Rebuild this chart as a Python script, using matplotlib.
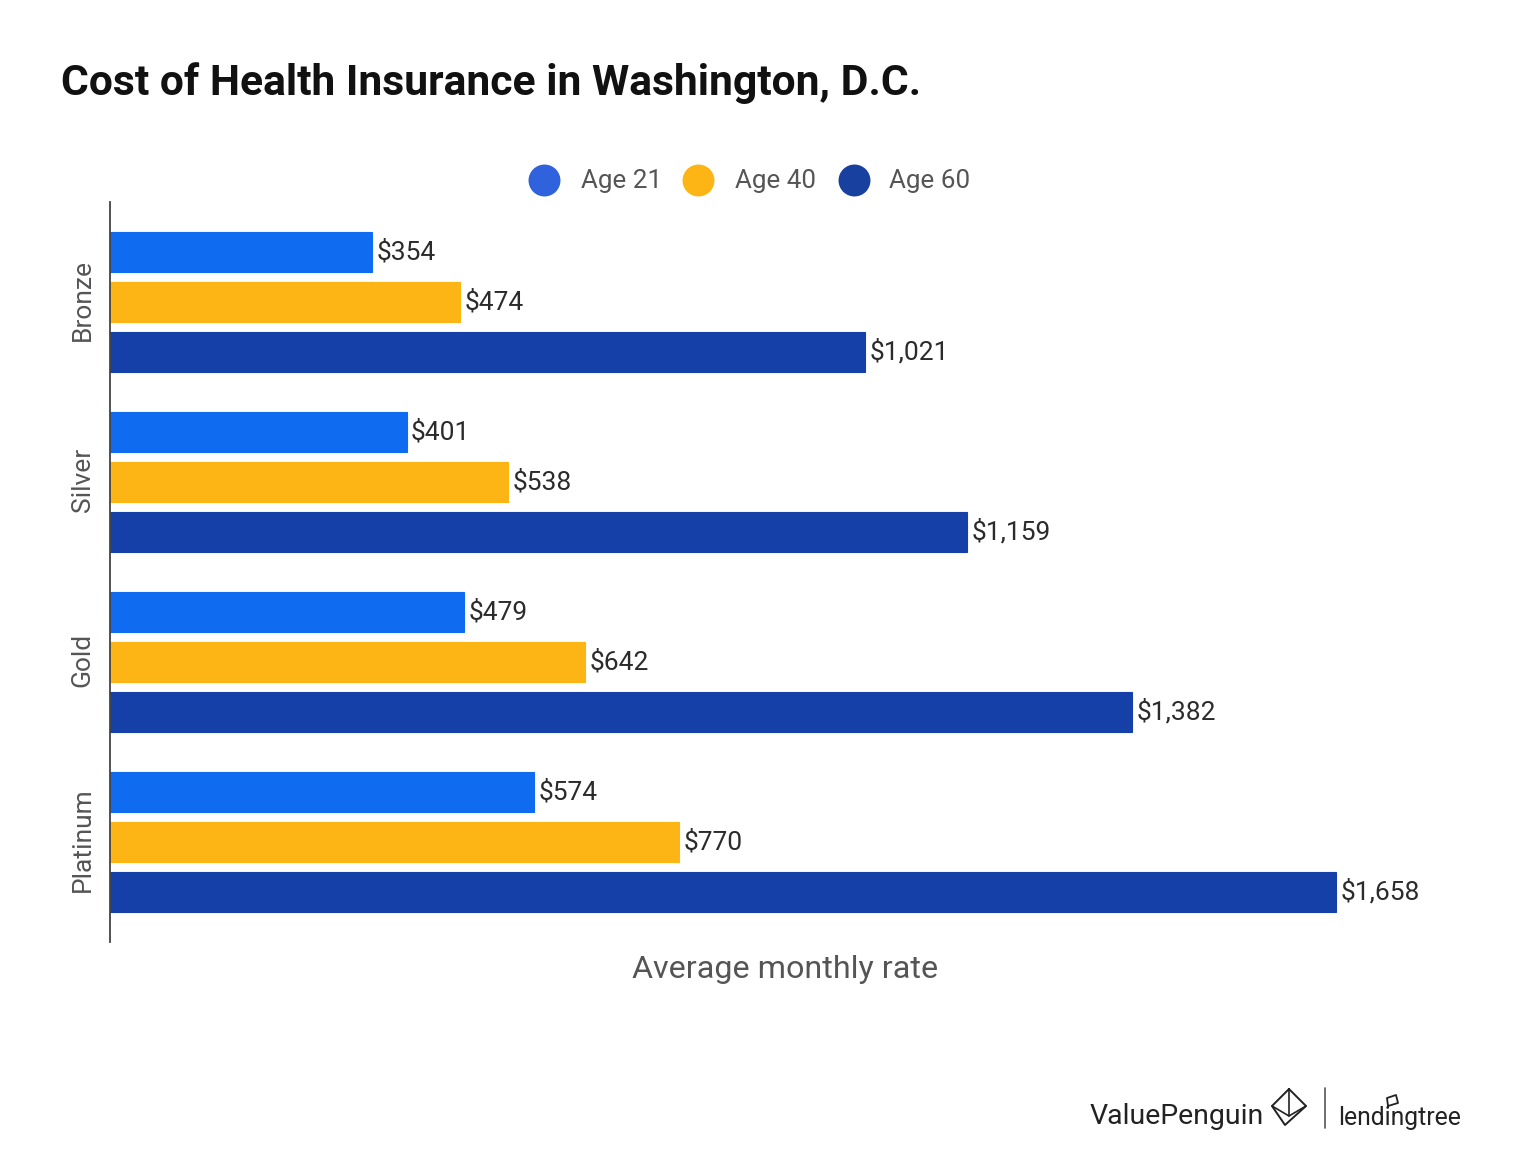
import matplotlib
matplotlib.use("Agg")
import matplotlib.pyplot as plt
from matplotlib.lines import Line2D
from matplotlib.transforms import ScaledTranslation

plt.rcParams['font.family'] = ['Roboto', 'DejaVu Sans']

categories = ["Bronze", "Silver", "Gold", "Platinum"]
series_names = ["Age 21", "Age 40", "Age 60"]
age21 = [354, 401, 479, 574]
age40 = [474, 538, 642, 770]
age60 = [1021, 1159, 1382, 1658]
colors = ["#0F6BF0", "#FDB515", "#1540A8"]
legend_colors = ["#2F62DC", "#FDB515", "#17409F"]

W, H = 1520, 1164
fig = plt.figure(figsize=(W / 100, H / 100), dpi=100, facecolor="white")
ax = fig.add_axes([110 / W, 1 - 942 / H, 1390 / W, 740 / H])

offset = 50 / 180
bar_h = 40 / 180
for s, (vals, c) in enumerate(zip([age21, age40, age60], colors)):
    ys = [i + (s - 1) * offset for i in range(len(categories))]
    ax.barh(ys, vals, height=bar_h, color=c, edgecolor=c, linewidth=0.8)
    for y, v in zip(ys, vals):
        ax.annotate(f"${v:,}", (v, y), xytext=(4.5, 0), textcoords="offset pixels",
                    va="center", ha="left", fontsize=19, color="#2b2b2b")

ax.set_xlim(0, 1390 / (1226 / 1658))
ax.set_ylim(3 + 100 / 180, -100 / 180)
ax.set_yticks(range(len(categories)))
ax.set_yticklabels(categories, rotation=90, va="center", fontsize=19, color="#555555")
ax.tick_params(axis="y", length=0, pad=11)
shift = ScaledTranslation(0, 2 / 100, fig.dpi_scale_trans)
for lab in ax.get_yticklabels():
    lab.set_transform(lab.get_transform() + shift)
ax.set_xticks([])
for sp in ["top", "right", "bottom"]:
    ax.spines[sp].set_visible(False)
ax.spines["left"].set_color("#444444")
ax.spines["left"].set_linewidth(1.3)

fig.text(61 / W, 1 - 83 / H, "Cost of Health Insurance in Washington, D.C.",
         fontsize=30.7, fontweight="bold", color="#111111", va="center", ha="left")
fig.text(785 / W, 1 - 970 / H, "Average monthly rate", fontsize=23.2, color="#555555",
         ha="center", va="center")

# legend
marker_x = [544, 698, 854]
text_x = [581, 735, 889]
for name, c, mx, tx in zip(series_names, legend_colors, marker_x, text_x):
    fig.add_artist(Line2D([mx / W], [1 - 180 / H], marker="o", markersize=23, color=c,
                          markeredgecolor="none", linestyle="none", transform=fig.transFigure))
    fig.text(tx / W, 1 - 181 / H, name, fontsize=18.7, color="#555555", va="center", ha="left")

# footer logos
fig.text(1090 / W, 1 - 1117 / H, "ValuePenguin", fontsize=20.5, color="#222222", va="center", ha="left")
fig.text(1338 / W, 1 - 1118 / H, "lendingtree", fontsize=17.8, color="#222222", va="center", ha="left")

def px_line(xs, ys, **kw):
    fig.add_artist(Line2D([x / W for x in xs], [1 - y / H for y in ys],
                          transform=fig.transFigure, solid_capstyle="round", **kw))

px_line([1325, 1325], [1088, 1128], color="#555555", lw=1.2)
px_line([1289, 1272, 1285, 1306, 1289], [1089, 1106, 1125, 1106, 1089], color="#222222", lw=1.4)
px_line([1289, 1289], [1089, 1116], color="#222222", lw=1.2)
px_line([1272, 1289, 1306], [1106, 1116, 1106], color="#222222", lw=1.2)
px_line([1388, 1398, 1396, 1387, 1388], [1106, 1103, 1095, 1098, 1106], color="#222222", lw=1.3)

fig.savefig("out.png", dpi=100, facecolor="white")
